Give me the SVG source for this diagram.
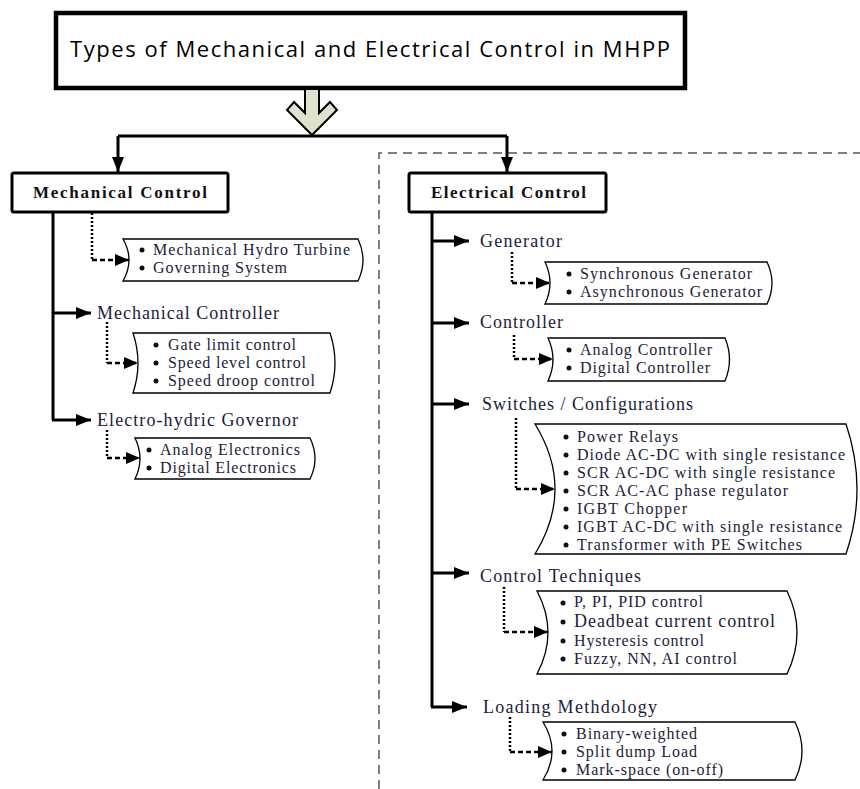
<svg xmlns="http://www.w3.org/2000/svg" width="860" height="789" viewBox="0 0 860 789">
  <defs>
    <marker id="head" markerUnits="userSpaceOnUse" markerWidth="15" markerHeight="12" refX="15" refY="6" orient="auto">
      <path d="M0,0 L15,6 L0,12 Z" fill="#000"/>
    </marker>
    <marker id="headSmall" markerUnits="userSpaceOnUse" markerWidth="14" markerHeight="12" refX="14" refY="6" orient="auto">
      <path d="M0,0 L14,6 L0,12 Z" fill="#000"/>
    </marker>
    <style>
      .box { fill: #fff; stroke: #000; stroke-width: 3; }
      .title-box { fill: #fff; stroke: #000; stroke-width: 4.5; }
      .line { fill: none; stroke: #000; stroke-width: 3; }
      .arrow { fill: none; stroke: #000; stroke-width: 3; marker-end: url(#head); }
      .dot { fill: none; stroke: #000; stroke-width: 2.5; stroke-dasharray: 2 2; }
      .dash { fill: none; stroke: #000; stroke-width: 2.5; stroke-dasharray: 5 3; marker-end: url(#headSmall); }
      .frame { fill: none; stroke: #555; stroke-width: 1.5; stroke-dasharray: 9 6; }
      .bubble { fill: #fff; stroke: #000; stroke-width: 1.3; }
      .bullet { fill: #111; }
      .title { font-family: "Open Sans", "Liberation Sans", sans-serif; font-size: 22px; fill: #000; }
      .head { font-family: "Liberation Serif", serif; font-weight: bold; font-size: 17px; fill: #111; }
      .label { font-family: "Liberation Serif", serif; font-size: 18px; fill: #1c1c3a; }
      .item { font-family: "Liberation Serif", serif; font-size: 16px; fill: #1c1c3a; }
    </style>
  </defs>

  <!-- dashed frame around the electrical side -->
  <path class="frame" d="M379,789 V153 H860"/>

  <!-- title -->
  <g id="title">
    <rect class="title-box" x="56" y="13" width="629" height="75"/>
    <text class="title" x="70" y="57" textLength="600" lengthAdjust="spacing">Types of Mechanical and Electrical Control in MHPP</text>
  </g>

  <!-- hollow block arrow under title -->
  <g id="split-arrow">
    <path d="M305,89 L319,89 L319,113 L330,102 L337,110 L312,135 L287,110 L294,102 L305,113 Z" fill="#dde2cc" stroke="#000" stroke-width="2"/>
  </g>

  <!-- connectors -->
  <g id="connectors">
    <path class="line" d="M118,136 H507"/>
    <path class="arrow" d="M118,136 V172"/>
    <path class="arrow" d="M507,136 V172"/>

    <!-- mechanical trunk -->
    <path class="line" d="M53,212 V420"/>
    <path class="arrow" d="M52,313 H91"/>
    <path class="arrow" d="M52,420 H91"/>

    <path class="dot" d="M92,213 V260"/>
    <path class="dash" d="M92,260 H129"/>
    <path class="dot" d="M107,322 V363"/>
    <path class="dash" d="M107,363 H138"/>
    <path class="dot" d="M107,430 V458"/>
    <path class="dash" d="M107,458 H140"/>

    <!-- electrical trunk -->
    <path class="line" d="M432,212 V707"/>
    <path class="arrow" d="M431,241 H469"/>
    <path class="arrow" d="M431,323 H469"/>
    <path class="arrow" d="M431,404 H469"/>
    <path class="arrow" d="M431,573 H469"/>
    <path class="arrow" d="M431,707 H467"/>

    <path class="dot" d="M512,252 V283"/>
    <path class="dash" d="M512,283 H550"/>
    <path class="dot" d="M514,335 V359"/>
    <path class="dash" d="M514,359 H553"/>
    <path class="dot" d="M516,418 V489"/>
    <path class="dash" d="M516,489 H555"/>
    <path class="dot" d="M504,587 V632"/>
    <path class="dash" d="M504,632 H548"/>
    <path class="dot" d="M510,717 V752"/>
    <path class="dash" d="M510,752 H552"/>
  </g>

  <!-- mechanical control -->
  <g id="mechanical-control">
    <rect class="box" x="12" y="173" width="216" height="39" rx="2"/>
    <text class="head" x="33" y="198" textLength="174" lengthAdjust="spacing">Mechanical Control</text>
  </g>

  <g id="mech-turbine">
    <path class="bubble" d="M123,239 H358 Q368,260 358,281 H123 Q135,260 123,239 Z"/>
    <circle class="bullet" cx="142" cy="250" r="2.5"/>
    <text class="item" x="153" y="255" textLength="197" lengthAdjust="spacing">Mechanical Hydro Turbine</text>
    <circle class="bullet" cx="142" cy="268" r="2.5"/>
    <text class="item" x="153" y="273" textLength="134" lengthAdjust="spacing">Governing System</text>
  </g>

  <g id="mech-controller">
    <text class="label" x="97" y="319" textLength="182" lengthAdjust="spacing">Mechanical Controller</text>
    <path class="bubble" d="M133,333 H330 Q340,363 330,393 H133 Q143,363 133,333 Z"/>
    <circle class="bullet" cx="156" cy="345" r="2.5"/>
    <text class="item" x="168" y="350" textLength="128" lengthAdjust="spacing">Gate limit control</text>
    <circle class="bullet" cx="156" cy="363" r="2.5"/>
    <text class="item" x="168" y="368" textLength="138" lengthAdjust="spacing">Speed level control</text>
    <circle class="bullet" cx="156" cy="381" r="2.5"/>
    <text class="item" x="168" y="386" textLength="147" lengthAdjust="spacing">Speed droop control</text>
  </g>

  <g id="electro-hydric-governor">
    <text class="label" x="97" y="426" textLength="201" lengthAdjust="spacing">Electro-hydric Governor</text>
    <path class="bubble" d="M135,438 H310 Q320,458.5 310,479 H135 Q145,458.5 135,438 Z"/>
    <circle class="bullet" cx="149" cy="450" r="2.5"/>
    <text class="item" x="160" y="455" textLength="140" lengthAdjust="spacing">Analog Electronics</text>
    <circle class="bullet" cx="149" cy="468" r="2.5"/>
    <text class="item" x="160" y="473" textLength="136" lengthAdjust="spacing">Digital Electronics</text>
  </g>

  <!-- electrical control -->
  <g id="electrical-control">
    <rect class="box" x="409" y="173" width="197" height="39" rx="2"/>
    <text class="head" x="431" y="198" textLength="155" lengthAdjust="spacing">Electrical Control</text>
  </g>

  <g id="generator">
    <text class="label" x="480" y="247" textLength="82" lengthAdjust="spacing">Generator</text>
    <path class="bubble" d="M545,262 H767 Q777,283 767,304 H545 Q555,283 545,262 Z"/>
    <circle class="bullet" cx="569" cy="274" r="2.5"/>
    <text class="item" x="580" y="279" textLength="172" lengthAdjust="spacing">Synchronous Generator</text>
    <circle class="bullet" cx="569" cy="292" r="2.5"/>
    <text class="item" x="580" y="297" textLength="182" lengthAdjust="spacing">Asynchronous Generator</text>
  </g>

  <g id="controller">
    <text class="label" x="480" y="328" textLength="83" lengthAdjust="spacing">Controller</text>
    <path class="bubble" d="M548,338 H725 Q734,359.5 725,381 H548 Q558,359.5 548,338 Z"/>
    <circle class="bullet" cx="569" cy="350" r="2.5"/>
    <text class="item" x="580" y="355" textLength="132" lengthAdjust="spacing">Analog Controller</text>
    <circle class="bullet" cx="569" cy="368" r="2.5"/>
    <text class="item" x="580" y="373" textLength="130" lengthAdjust="spacing">Digital Controller</text>
  </g>

  <g id="switches">
    <text class="label" x="482" y="410" textLength="211" lengthAdjust="spacing">Switches / Configurations</text>
    <path class="bubble" d="M535,424 H846 Q868,489 846,554 H535 Q575,489 535,424 Z"/>
    <circle class="bullet" cx="566" cy="437" r="2.5"/>
    <text class="item" x="577" y="442" textLength="101" lengthAdjust="spacing">Power Relays</text>
    <circle class="bullet" cx="566" cy="455" r="2.5"/>
    <text class="item" x="577" y="460" textLength="268" lengthAdjust="spacing">Diode AC-DC with single resistance</text>
    <circle class="bullet" cx="566" cy="473" r="2.5"/>
    <text class="item" x="577" y="478" textLength="258" lengthAdjust="spacing">SCR AC-DC with single resistance</text>
    <circle class="bullet" cx="566" cy="491" r="2.5"/>
    <text class="item" x="577" y="496" textLength="211" lengthAdjust="spacing">SCR AC-AC phase regulator</text>
    <circle class="bullet" cx="566" cy="509" r="2.5"/>
    <text class="item" x="577" y="514" textLength="110" lengthAdjust="spacing">IGBT Chopper</text>
    <circle class="bullet" cx="566" cy="527" r="2.5"/>
    <text class="item" x="577" y="532" textLength="265" lengthAdjust="spacing">IGBT AC-DC with single resistance</text>
    <circle class="bullet" cx="566" cy="545" r="2.5"/>
    <text class="item" x="577" y="550" textLength="225" lengthAdjust="spacing">Transformer with PE Switches</text>
  </g>

  <g id="control-techniques">
    <text class="label" x="480" y="582" textLength="161" lengthAdjust="spacing">Control Techniques</text>
    <path class="bubble" d="M537,591 H787 Q807,632.5 787,674 H537 Q559,632.5 537,591 Z"/>
    <circle class="bullet" cx="563" cy="603" r="2.5"/>
    <text class="item" x="574" y="607" textLength="129" lengthAdjust="spacing">P, PI, PID control</text>
    <circle class="bullet" cx="563" cy="622" r="2.5"/>
    <text class="item" x="574" y="627" style="font-size:18px" textLength="201" lengthAdjust="spacing">Deadbeat current control</text>
    <circle class="bullet" cx="563" cy="641" r="2.5"/>
    <text class="item" x="574" y="646" textLength="130" lengthAdjust="spacing">Hysteresis control</text>
    <circle class="bullet" cx="563" cy="659" r="2.5"/>
    <text class="item" x="574" y="664" textLength="163" lengthAdjust="spacing">Fuzzy, NN, AI control</text>
  </g>

  <g id="loading-methodology">
    <text class="label" x="483" y="713" textLength="174" lengthAdjust="spacing">Loading Methdology</text>
    <path class="bubble" d="M543,722 H795 Q809,751 795,780 H543 Q561,751 543,722 Z"/>
    <circle class="bullet" cx="564" cy="734" r="2.5"/>
    <text class="item" x="576" y="739" textLength="121" lengthAdjust="spacing">Binary-weighted</text>
    <circle class="bullet" cx="564" cy="752" r="2.5"/>
    <text class="item" x="576" y="757" textLength="121" lengthAdjust="spacing">Split dump Load</text>
    <circle class="bullet" cx="564" cy="770" r="2.5"/>
    <text class="item" x="576" y="775" textLength="147" lengthAdjust="spacing">Mark-space (on-off)</text>
  </g>
</svg>
